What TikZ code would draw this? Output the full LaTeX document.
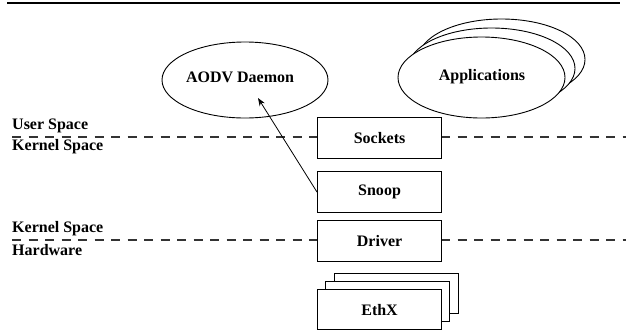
\documentclass[tikz,border=0pt]{standalone}
\usepackage{fontspec}
\setmainfont{Liberation Serif}
\usetikzlibrary{shapes.geometric,arrows.meta}
\begin{document}
\begin{tikzpicture}[x=1pt,y=-1pt,
  lbl/.style={font=\fontsize{16}{19}\selectfont\bfseries, inner sep=0pt},
  blk/.style={draw, line width=1.1pt, fill=white, minimum width=124pt, minimum height=41pt, inner sep=0pt, anchor=north west, font=\fontsize{16}{19}\selectfont\bfseries},
  ell/.style={draw, ellipse, line width=0.9pt, fill=white, inner sep=0pt},
  sep/.style={line width=1.1pt, black!80, dash pattern=on 9pt off 7.5pt}]
\useasboundingbox (0,0) rectangle (626,330);
% top bar
\coordinate (barL) at (7,3);
\coordinate (barR) at (620,3);
\draw[line width=2.6pt] (barL) -- (barR);
% separator lines
\coordinate (s1L) at (12,137);
\coordinate (s1R) at (626,137);
\coordinate (s2L) at (12,240);
\coordinate (s2R) at (626,240);
\draw[sep] (s1L) -- (s1R);
\draw[sep] (s2L) -- (s2R);
% labels
\node[lbl, anchor=west] (us) at (12,126) {User Space};
\node[lbl, anchor=west] (ks1) at (12,147) {Kernel Space};
\node[lbl, anchor=west] (ks2) at (12,229) {Kernel Space};
\node[lbl, anchor=west] (hw) at (12,250) {Hardware};
% ellipses
\node[ell, minimum width=166pt, minimum height=76pt] (aodv) at (245,80) {};
\node[lbl] (aodvt) at (240,77) {AODV Daemon};
\node[ell, minimum width=167pt, minimum height=81pt] (app3) at (501.5,59.5) {};
\node[ell, minimum width=167pt, minimum height=81pt] (app2) at (491.5,68.5) {};
\node[ell, minimum width=167pt, minimum height=81pt] (app1) at (481.5,77.5) {};
\node[lbl] (appt) at (482,77) {Applications};
% boxes
\node[blk] (sockets) at (317,117) {Sockets};
\node[blk] (snoop) at (317,171) {Snoop};
\node[blk] (driver) at (317,220) {Driver};
\node[blk, minimum height=40pt] (eth3) at (333.5,273) {};
\node[blk, minimum height=40pt] (eth2) at (325,281) {};
\node[blk, minimum height=40pt] (eth1) at (317,289) {EthX};
% arrow
\coordinate (tip) at (258,98);
\draw[line width=0.8pt, -{Stealth[length=8pt,width=6pt]}] (snoop.west) -- (tip);
\end{tikzpicture}
\end{document}
